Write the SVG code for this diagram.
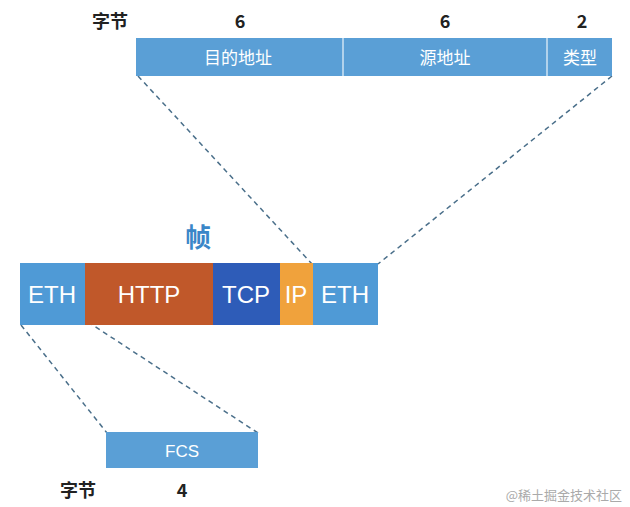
<svg xmlns="http://www.w3.org/2000/svg" width="630" height="507" viewBox="0 0 630 507">
<style>
.b{font-family:"Noto Sans CJK SC","Liberation Sans",sans-serif;font-size:18px;font-weight:bold;fill:#222;text-anchor:middle}
.w{font-family:"Liberation Sans","Noto Sans CJK SC",sans-serif;fill:#fff;text-anchor:middle}
.d{stroke:#4a6f8a;stroke-width:1.5;stroke-dasharray:5,4;fill:none}
</style>
<rect width="630" height="507" fill="#fff"/>
<g id="connectors">
<line class="d" x1="138" y1="76" x2="312" y2="264"/>
<line class="d" x1="612" y1="76" x2="378" y2="264"/>
<line class="d" x1="21" y1="325" x2="107" y2="433"/>
<line class="d" x1="88" y1="322" x2="258" y2="433"/>
</g>
<g id="header">
<text class="b" x="110" y="28">字节</text>
<text class="b" x="240" y="28">6</text>
<text class="b" x="445" y="28">6</text>
<text class="b" x="582" y="28">2</text>
</g>
<g id="addr">
<rect x="136" y="38" width="476" height="38" fill="#5a9fd6"/>
<line x1="343" y1="38" x2="343" y2="76" stroke="#cfe3f3" stroke-width="1.5"/>
<line x1="547" y1="38" x2="547" y2="76" stroke="#cfe3f3" stroke-width="1.5"/>
<text class="w" x="238" y="64" font-size="17">目的地址</text>
<text class="w" x="445" y="64" font-size="17">源地址</text>
<text class="w" x="580" y="64" font-size="17">类型</text>
</g>
<g id="frame">
<text x="198" y="247" font-family="Noto Sans CJK SC,sans-serif" font-size="26" font-weight="bold" fill="#3a86c8" text-anchor="middle">帧</text>
<rect x="20" y="263" width="65" height="62" fill="#4f9ad6"/>
<rect x="85" y="263" width="128" height="62" fill="#c0582a"/>
<rect x="213" y="263" width="67" height="62" fill="#2e5cb8"/>
<rect x="280" y="263" width="33" height="62" fill="#f0a23c"/>
<rect x="313" y="263" width="65" height="62" fill="#4f9ad6"/>
<text class="w" x="52" y="303" font-size="24">ETH</text>
<text class="w" x="149" y="303" font-size="24">HTTP</text>
<text class="w" x="246" y="303" font-size="24">TCP</text>
<text class="w" x="296" y="303" font-size="24">IP</text>
<text class="w" x="345" y="303" font-size="24">ETH</text>
</g>
<g id="fcs">
<rect x="106" y="432" width="152" height="36" fill="#5a9fd6"/>
<text class="w" x="182" y="457" font-size="17">FCS</text>
<text class="b" x="78" y="497">字节</text>
<text class="b" x="182" y="497">4</text>
</g>
<text x="622" y="500" font-family="Noto Sans CJK SC,sans-serif" font-size="13" fill="#aaa" text-anchor="end">@稀土掘金技术社区</text>
</svg>
